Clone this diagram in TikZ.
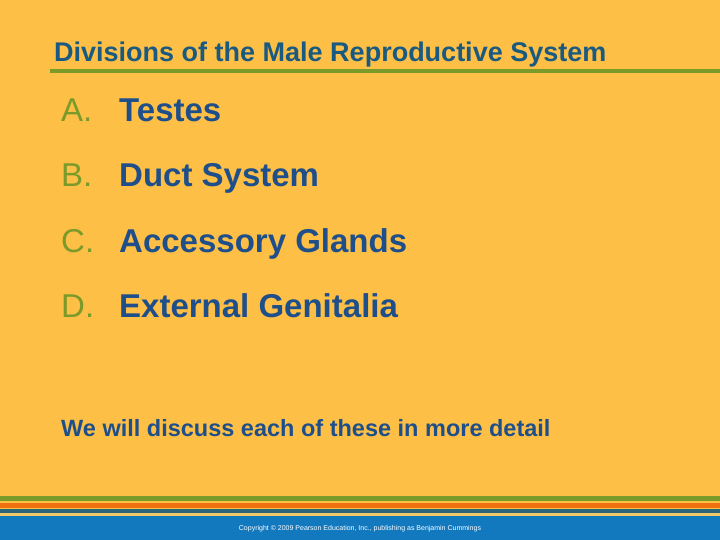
\documentclass[tikz,border=0pt]{standalone}
\usepackage{fontspec}
\setmainfont{Liberation Sans}
\definecolor{bg}{HTML}{FDBF45}
\definecolor{ttl}{HTML}{1A5A80}
\definecolor{grn}{HTML}{7A9A2A}
\definecolor{navy}{HTML}{1E4F8A}
\definecolor{org}{HTML}{F07010}
\definecolor{teal}{HTML}{2A6478}
\definecolor{lyel}{HTML}{F2C86A}
\definecolor{blu}{HTML}{1279BE}
\begin{document}
\begin{tikzpicture}[x=1pt,y=-1pt,
  item/.style={anchor=base west,font=\fontsize{33}{38}\selectfont\bfseries,text=navy,inner sep=0pt},
  lett/.style={anchor=base west,font=\fontsize{33}{38}\selectfont,text=grn,inner sep=0pt}]
\fill[bg] (0,0) rectangle (720,540);
\useasboundingbox (0,0) rectangle (720,540);
\node[anchor=base west,inner sep=0pt,font=\fontsize{27}{32}\selectfont\bfseries,text=ttl] (title) at (54,62) {Divisions of the Male Reproductive System};
\fill[grn] (50,69) rectangle (720,73);
\node[lett] (la) at (61,122) {A.}; \node[item] (ta) at (119,122) {Testes};
\node[lett] (lb) at (61,187) {B.}; \node[item] (tb) at (119,187) {Duct System};
\node[lett] (lc) at (61,252) {C.}; \node[item] (tc) at (119,252) {Accessory Glands};
\node[lett] (ld) at (61,317) {D.}; \node[item] (td) at (119,317) {External Genitalia};
\node[anchor=base west,inner sep=0pt,font=\fontsize{23.5}{28}\selectfont\bfseries,text=navy] (note) at (61,436) {We will discuss each of these in more detail};
\fill[grn] (0,496) rectangle (720,501);
\fill[org] (0,503) rectangle (720,508);
\fill[teal] (0,509) rectangle (720,513);
\fill[lyel] (0,513) rectangle (720,516);
\fill[blu] (0,516) rectangle (720,540);
\node[inner sep=0pt,font=\fontsize{7}{8}\selectfont,text=white] (copy) at (360,529) {Copyright © 2009 Pearson Education, Inc., publishing as Benjamin Cummings};
\end{tikzpicture}
\end{document}
